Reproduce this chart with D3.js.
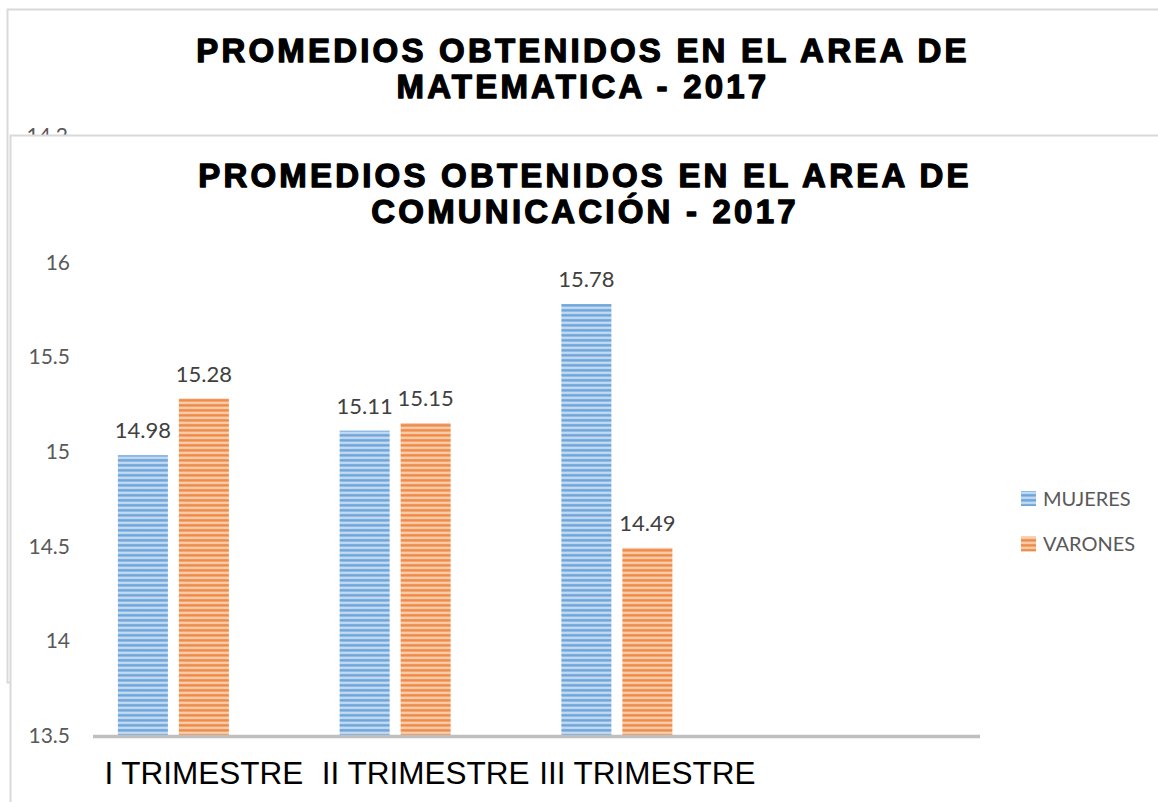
<!DOCTYPE html>
<html>
<head>
<meta charset="utf-8">
<script src="https://cdn.jsdelivr.net/npm/d3@7"></script>
<style>
  html, body { margin: 0; padding: 0; background: #fff; }
  svg { display: block; }
</style>
</head>
<body>
<script>
// ---- data ----
const categories = ["I TRIMESTRE", "II TRIMESTRE", "III TRIMESTRE", ""];
const seriesNames = ["MUJERES", "VARONES"];
const mujeres = [14.98, 15.11, 15.78, null];
const varones = [15.28, 15.15, 14.49, null];
const yTicks = [13.5, 14, 14.5, 15, 15.5, 16];
const titleFront = ["PROMEDIOS OBTENIDOS EN EL AREA DE", "COMUNICACIÓN - 2017"];
const titleBack = ["PROMEDIOS OBTENIDOS EN EL AREA DE", "MATEMATICA - 2017"];
const backTickLabels = ["14.2"];

const W = 1158, H = 802;
const svg = d3.select("body").append("svg").attr("width", W).attr("height", H);

const colors = {
  MUJERES: ["#5b9bd5", "#9cc2e8", "#dce9f7"],
  VARONES: ["#ed7d31", "#f3ae7c", "#fbe1cd"]
};

// stripe patterns
const defs = svg.append("defs");
seriesNames.forEach((s, i) => {
  const c = colors[s];
  const g = defs.append("linearGradient").attr("id", "grad" + i)
    .attr("x1", 0).attr("y1", 0).attr("x2", 0).attr("y2", 1);
  g.append("stop").attr("offset", "0%").attr("stop-color", c[0]);
  g.append("stop").attr("offset", "35%").attr("stop-color", c[1]);
  g.append("stop").attr("offset", "60%").attr("stop-color", c[2]);
  g.append("stop").attr("offset", "100%").attr("stop-color", c[0]);
  const p = defs.append("pattern").attr("id", "pat" + i)
    .attr("patternUnits", "userSpaceOnUse").attr("width", 10).attr("height", 5);
  p.append("rect").attr("width", 10).attr("height", 5).attr("fill", "url(#grad" + i + ")");
});

const titleFont = "'Liberation Sans', Arial, sans-serif";

// ---- background panel (matemática) ----
svg.append("rect").attr("x", 7.5).attr("y", 9.5).attr("width", 1300).attr("height", 673)
  .attr("fill", "#fff").attr("stroke", "#d9d9d9").attr("stroke-width", 2);
titleBack.forEach((t, i) => {
  svg.append("text").attr("x", 583).attr("y", 62 + i * 36)
    .attr("text-anchor", "middle").attr("font-family", titleFont)
    .attr("font-weight", "bold").attr("font-size", 33).attr("letter-spacing", 3.2)
    .attr("fill", "#000").attr("stroke", "#000").attr("stroke-width", 1.3)
    .attr("stroke-linejoin", "round")
    .text(t);
});
svg.selectAll(".bt").data(backTickLabels).enter().append("text")
  .attr("x", 68).attr("y", 143).attr("text-anchor", "end")
  .attr("font-family", "Lato, sans-serif").attr("font-size", 21).attr("fill", "#595959")
  .text(d => d);

// ---- foreground panel (comunicación) ----
svg.append("rect").attr("x", 10.5).attr("y", 135.5).attr("width", 1300).attr("height", 800)
  .attr("fill", "#fff").attr("stroke", "#d9d9d9").attr("stroke-width", 2);

titleFront.forEach((t, i) => {
  svg.append("text").attr("x", 585).attr("y", 187 + i * 36)
    .attr("text-anchor", "middle").attr("font-family", titleFont)
    .attr("font-weight", "bold").attr("font-size", 33).attr("letter-spacing", 3.2)
    .attr("fill", "#000").attr("stroke", "#000").attr("stroke-width", 1.3)
    .attr("stroke-linejoin", "round")
    .text(t);
});

// scales
const x0 = d3.scaleBand().domain(categories).range([93, 980]).padding(0);
const x1 = d3.scaleBand().domain([...seriesNames, "_"]).range([0, x0.bandwidth()])
  .paddingInner(0.18).paddingOuter(0.408);
const y = d3.scaleLinear().domain([13.5, 16]).range([735, 262.4]);

// y tick labels
svg.append("g").selectAll("text").data(yTicks).enter().append("text")
  .attr("x", 70).attr("y", d => y(d)).attr("dy", "0.36em").attr("text-anchor", "end")
  .attr("font-family", "Lato, sans-serif").attr("font-size", 21).attr("fill", "#595959")
  .text(d => d3.format("")(d));

// bars
const seriesData = [mujeres, varones];
seriesNames.forEach((s, si) => {
  const vals = seriesData[si];
  const g = svg.append("g");
  const rows = categories.map((c, ci) => ({ c, v: vals[ci] })).filter(d => d.v != null);
  g.selectAll("rect").data(rows).enter().append("rect")
    .attr("x", d => x0(d.c) + x1(s))
    .attr("y", d => y(d.v))
    .attr("width", x1.bandwidth())
    .attr("height", d => y(13.5) - y(d.v))
    .attr("fill", "url(#pat" + si + ")");
  g.selectAll("text").data(rows).enter().append("text")
    .attr("x", d => x0(d.c) + x1(s) + x1.bandwidth() / 2)
    .attr("y", d => y(d.v) - 17)
    .attr("text-anchor", "middle")
    .attr("font-family", "Lato, sans-serif").attr("font-size", 22).attr("fill", "#404040")
    .text(d => d3.format(".2f")(d.v));
});

// x axis line
svg.append("line").attr("x1", x0.range()[0]).attr("x2", x0.range()[1])
  .attr("y1", y(13.5) + 1.5).attr("y2", y(13.5) + 1.5)
  .attr("stroke", "#bfbfbf").attr("stroke-width", 3.5);

// x labels
svg.append("g").selectAll("text").data(categories.filter(c => c)).enter().append("text")
  .attr("x", d => x0(d) + x0.bandwidth() / 2).attr("y", 784)
  .attr("text-anchor", "middle").attr("font-family", titleFont)
  .attr("font-size", 31.5).attr("fill", "#000")
  .text(d => d);

// legend
const leg = svg.append("g");
seriesNames.forEach((s, i) => {
  const cy = 498.5 + i * 45.5;
  leg.append("rect").attr("x", 1021).attr("y", cy - 7.5).attr("width", 15).attr("height", 15)
    .attr("fill", "url(#pat" + i + ")");
  leg.append("text").attr("x", 1043).attr("y", cy).attr("dy", "0.36em")
    .attr("font-family", "Lato, sans-serif").attr("font-size", 20).attr("fill", "#595959")
    .text(s);
});
</script>
</body>
</html>
